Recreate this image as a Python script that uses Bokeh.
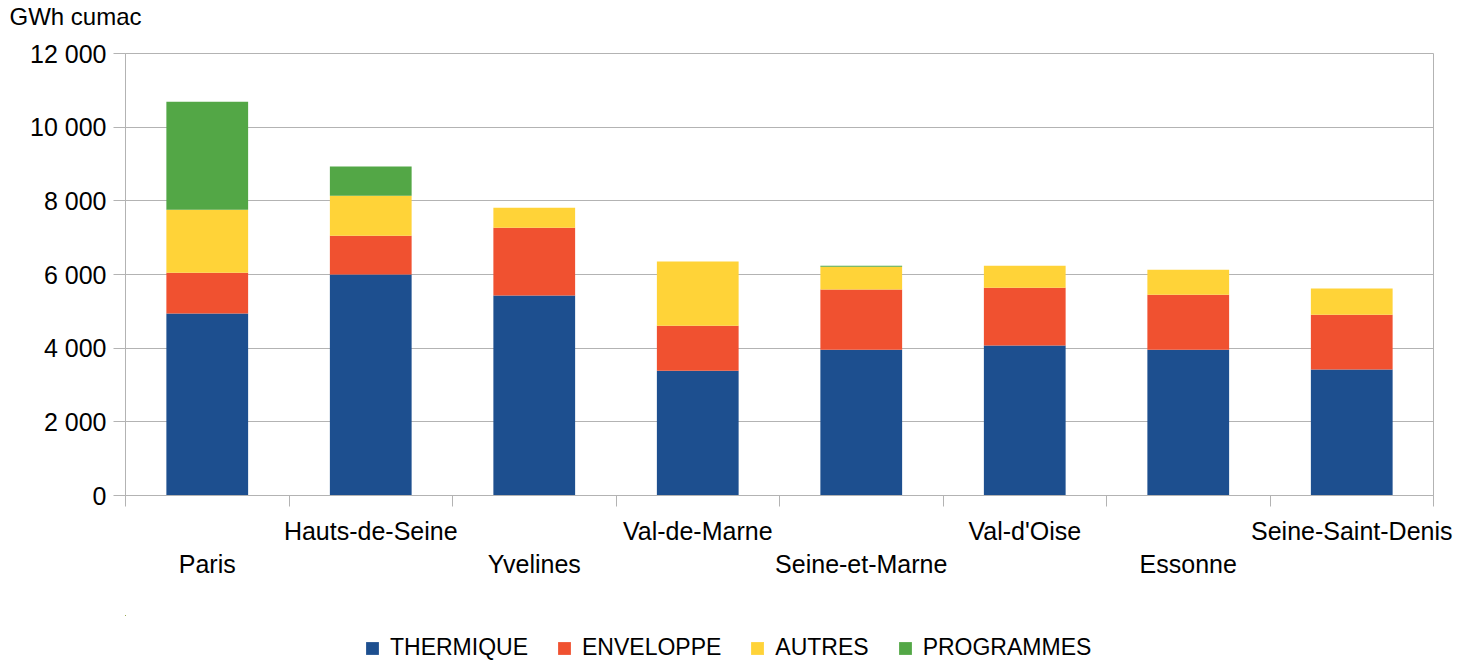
from bokeh.plotting import figure
from bokeh.layouts import column
from bokeh.models import FixedTicker, Range1d, Legend, LegendItem, ColumnDataSource
from bokeh.embed import file_html
from bokeh.resources import INLINE

# ---- data ----
departements = ["Paris", "Hauts-de-Seine", "Yvelines", "Val-de-Marne",
                "Seine-et-Marne", "Val-d'Oise", "Essonne", "Seine-Saint-Denis"]
thermique = [4940, 6000, 5430, 3390, 3960, 4070, 3960, 3420]
enveloppe = [1110, 1050, 1840, 1220, 1630, 1570, 1490, 1490]
autres = [1710, 1090, 540, 1740, 620, 600, 680, 710]
programmes = [2930, 790, 0, 0, 30, 0, 0, 0]
series_names = ["THERMIQUE", "ENVELOPPE", "AUTRES", "PROGRAMMES"]
colors = ["#1d4f8f", "#f05130", "#ffd338", "#53a746"]
y_ticks = [0, 2000, 4000, 6000, 8000, 10000, 12000]
y_tick_labels = ["0", "2 000", "4 000", "6 000", "8 000", "10 000", "12 000"]
y_title = "GWh cumac"

FONT = "Liberation Sans"
GRID = "#b3b3b3"
TOTAL_W = 1464
LEFT = 125
FRAME_W, FRAME_H = 1308, 442
TITLE_H, LEGEND_H = 36, 46

n = len(departements)
centers = [i + 0.5 for i in range(n)]
source = ColumnDataSource(dict(x=centers, THERMIQUE=thermique, ENVELOPPE=enveloppe,
                               AUTRES=autres, PROGRAMMES=programmes))

# ---------- unit label strip (top) ----------
t = figure(width=TOTAL_W, height=TITLE_H, output_backend="svg", toolbar_location=None,
           x_range=Range1d(0, 1), y_range=Range1d(0, 1),
           x_axis_location=None, y_axis_location=None, title=y_title,
           min_border=0, outline_line_color=None)
t.grid.visible = False
t.title.text_font = FONT
t.title.text_font_size = "24px"
t.title.text_font_style = "normal"
t.title.text_color = "black"
t.title.align = "left"
t.title.offset = -116
t.title.standoff = 0

# ---------- main chart ----------
p = figure(frame_width=FRAME_W, frame_height=FRAME_H, output_backend="svg", toolbar_location=None,
           x_range=Range1d(0, n), y_range=Range1d(y_ticks[0], y_ticks[-1]),
           min_border_left=LEFT, min_border_right=TOTAL_W - LEFT - FRAME_W,
           min_border_top=53 - TITLE_H, min_border_bottom=120)

p.vbar_stack(series_names, x="x", width=0.5, source=source, color=colors, line_color=None)

# x axis: labels at centres (staggered on two rows), tick marks at category boundaries
xa = p.xaxis[0]
xa.ticker = FixedTicker(ticks=centers, minor_ticks=list(range(n + 1)))
xa.major_label_overrides = {c: (("\n" + d) if i % 2 == 0 else d)
                            for i, (c, d) in enumerate(zip(centers, departements))}
xa.major_tick_out = 0
xa.major_tick_in = 0
xa.minor_tick_out = 11
xa.minor_tick_in = 0
xa.minor_tick_line_color = GRID
xa.axis_line_color = GRID
xa.major_label_text_font = FONT
xa.major_label_text_font_size = "25px"
xa.major_label_text_color = "black"
xa.major_label_standoff = 10

ya = p.yaxis[0]
ya.ticker = FixedTicker(ticks=y_ticks)
ya.major_label_overrides = {tk: lb for tk, lb in zip(y_ticks, y_tick_labels)}
ya.major_tick_out = 12
ya.major_tick_in = 0
ya.minor_tick_out = 0
ya.minor_tick_in = 0
ya.major_tick_line_color = GRID
ya.axis_line_color = GRID
ya.major_label_text_font = FONT
ya.major_label_text_font_size = "25px"
ya.major_label_text_color = "black"
ya.major_label_standoff = 7

p.xgrid.visible = False
p.ygrid.ticker = FixedTicker(ticks=y_ticks)
p.ygrid.grid_line_color = GRID
p.outline_line_color = GRID

# ---------- legend strip (bottom) ----------
lg = figure(width=TOTAL_W, height=LEGEND_H, output_backend="svg", toolbar_location=None,
            x_range=Range1d(1000, 1001), y_range=Range1d(-1000, -999),
            x_axis_location=None, y_axis_location=None,
            min_border=0, outline_line_color=None)
lg.grid.visible = False
lrs = lg.vbar_stack(series_names, x="x", width=0.5, source=source, color=colors, line_color=None)
legend = Legend(items=[LegendItem(label=s, renderers=[r]) for s, r in zip(series_names, lrs)],
                orientation="horizontal", location=(366 - 2 - LEFT, 0),
                glyph_width=16, glyph_height=16, label_standoff=10, spacing=28,
                label_text_font=FONT, label_text_font_size="23px", label_text_color="black",
                border_line_color=None, background_fill_alpha=0, padding=0, margin=0)
lg.add_layout(legend, "center")

layout = column(t, p, lg, spacing=0)
open("out.html", "w").write(file_html(layout, INLINE))
